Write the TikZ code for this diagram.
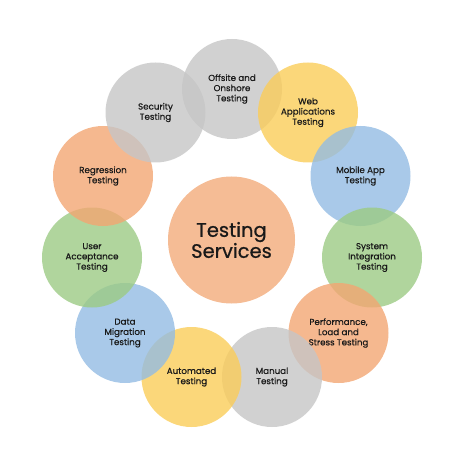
\documentclass[tikz,border=0pt]{standalone}
\usepackage{fontspec}
\setmainfont{Poppins}
\newfontfamily\medfont{Poppins}[UprightFeatures={FakeBold=0.6}]
\definecolor{cgray}{HTML}{C6C6C6}
\definecolor{cyellow}{HTML}{FACD59}
\definecolor{cblue}{HTML}{93BCE3}
\definecolor{cgreen}{HTML}{9CCB84}
\definecolor{corange}{HTML}{F3A673}
\definecolor{ccenter}{HTML}{F5BC95}
\begin{document}
\begin{tikzpicture}[x=1pt,y=-1pt,
  bubble/.style={circle,minimum size=100pt,inner sep=0pt,fill opacity=0.8,text opacity=1,
     font=\medfont\fontsize{8.7}{10.2}\selectfont,align=center,text=black!90},
  hub/.style={circle,minimum size=127pt,inner sep=0pt,fill=ccenter,
     font=\medfont\fontsize{19.5}{21}\selectfont,align=center,text=black!90}]
\useasboundingbox (0,0) rectangle (470,470);
\node[hub] (center) at (231.5,240) {Testing\\Services};
\node[bubble,fill=cgray]   (offsite) at (232,89)    {Offsite and\\Onshore\\Testing};
\node[bubble,fill=cyellow] (web)     at (308,112.5) {Web\\Applications\\Testing};
\node[bubble,fill=cblue]   (mobile)  at (360.5,176) {Mobile App\\Testing};
\node[bubble,fill=cgreen]  (system)  at (372,257.5) {System\\Integration\\Testing};
\node[bubble,fill=corange] (perf)    at (338.5,333) {Performance,\\Load and\\Stress Testing};
\node[bubble,fill=cgray]   (manual)  at (272,377)   {Manual\\Testing};
\node[bubble,fill=cyellow] (auto)    at (191.5,377) {Automated\\Testing};
\node[bubble,fill=cblue]   (data)    at (125,333)   {Data\\Migration\\Testing};
\node[bubble,fill=cgreen]  (user)    at (92,257.5)  {User\\Acceptance\\Testing};
\node[bubble,fill=corange] (regr)    at (103,176)   {Regression\\Testing};
\node[bubble,fill=cgray]   (security) at (155.5,112.5) {Security\\Testing};
\end{tikzpicture}
\end{document}
